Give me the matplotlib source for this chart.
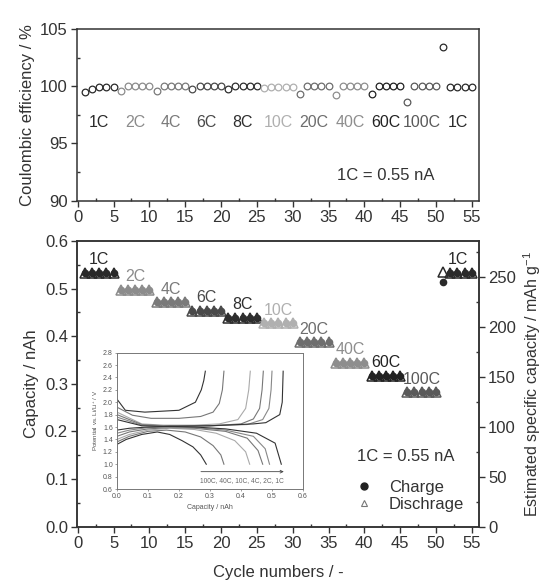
import numpy as np
import matplotlib
matplotlib.use("Agg")
import matplotlib.pyplot as plt
from matplotlib.lines import Line2D
from matplotlib.ticker import MultipleLocator, FormatStrFormatter

plt.rcParams['font.family'] = ['Liberation Sans', 'DejaVu Sans']
plt.rcParams['mathtext.fontset'] = 'custom'
plt.rcParams['mathtext.rm'] = 'Liberation Sans'

# C-rate groups (5 cycles each, last group 51-55)
rates = ['1C', '2C', '4C', '6C', '8C', '10C', '20C', '40C', '60C', '100C', '1C']
rate_colors = ['#2a2a2a', '#8c8c8c', '#7a7a7a', '#4a4a4a', '#2e2e2e', '#b0b0b0',
               '#6e6e6e', '#8e8e8e', '#222222', '#5a5a5a', '#2a2a2a']

cycles = np.arange(1, 56)

# Coulombic efficiency / %
ce = [99.5, 99.8, 99.9, 99.9, 99.95,
      99.6, 100.0, 100.0, 100.0, 100.0,
      99.6, 100.0, 100.0, 100.0, 100.0,
      99.75, 100.0, 100.0, 100.0, 100.0,
      99.8, 100.0, 100.0, 100.0, 100.0,
      99.85, 99.95, 99.95, 99.95, 99.95,
      99.3, 100.0, 100.0, 100.0, 100.0,
      99.2, 100.0, 100.0, 100.0, 100.0,
      99.3, 100.0, 100.0, 100.0, 100.0,
      98.6, 100.0, 100.0, 100.0, 100.0,
      103.4, 99.95, 99.95, 99.95, 99.95]

# Capacity / nAh
charge = [0.533] * 5 + [0.498] * 5 + [0.471] * 5 + [0.453] * 5 + [0.439] * 5 + \
         [0.427] * 5 + [0.387] * 5 + [0.344] * 5 + [0.317] * 5 + [0.282] * 5 + \
         [0.514, 0.533, 0.533, 0.533, 0.533]
discharge = [0.533] * 5 + [0.498] * 5 + [0.471] * 5 + [0.453] * 5 + [0.439] * 5 + \
            [0.427] * 5 + [0.387] * 5 + [0.344] * 5 + [0.317] * 5 + [0.282] * 5 + \
            [0.535, 0.533, 0.533, 0.533, 0.533]

# Inset: voltage profiles (capacity / nAh, potential / V)
inset_rates = ['100C', '40C', '10C', '4C', '2C', '1C']
inset_colors = ['#333333', '#777777', '#aaaaaa', '#777777', '#888888', '#333333']
charge_q = [
    [0, 0.027, 0.09, 0.2, 0.253, 0.272, 0.28, 0.285],
    [0, 0.05, 0.11, 0.2, 0.27, 0.31, 0.33, 0.34, 0.345],
    [0, 0.08, 0.15, 0.25, 0.33, 0.39, 0.415, 0.425, 0.43],
    [0, 0.08, 0.15, 0.3, 0.4, 0.44, 0.46, 0.468, 0.472],
    [0, 0.08, 0.15, 0.3, 0.42, 0.47, 0.49, 0.497, 0.5],
    [0, 0.08, 0.15, 0.3, 0.44, 0.48, 0.525, 0.533, 0.536],
]
charge_v = [
    [2.05, 1.87, 1.84, 1.87, 2.0, 2.2, 2.35, 2.5],
    [1.92, 1.79, 1.74, 1.74, 1.77, 1.84, 1.98, 2.2, 2.5],
    [1.84, 1.65, 1.63, 1.63, 1.65, 1.72, 1.9, 2.2, 2.5],
    [1.8, 1.64, 1.62, 1.62, 1.65, 1.73, 1.9, 2.2, 2.5],
    [1.76, 1.63, 1.62, 1.62, 1.64, 1.72, 1.9, 2.2, 2.5],
    [1.72, 1.62, 1.61, 1.62, 1.65, 1.67, 1.8, 2.0, 2.5],
]
dis_q = [
    [0, 0.03, 0.08, 0.13, 0.17, 0.21, 0.245, 0.27, 0.288],
    [0, 0.04, 0.1, 0.16, 0.22, 0.27, 0.31, 0.335, 0.345],
    [0, 0.04, 0.1, 0.17, 0.25, 0.32, 0.38, 0.415, 0.428],
    [0, 0.04, 0.1, 0.17, 0.25, 0.35, 0.42, 0.455, 0.47],
    [0, 0.04, 0.1, 0.17, 0.25, 0.35, 0.44, 0.478, 0.492],
    [0, 0.04, 0.1, 0.17, 0.25, 0.35, 0.45, 0.51, 0.53],
]
dis_v = [
    [1.32, 1.4, 1.48, 1.52, 1.48, 1.38, 1.28, 1.15, 1.0],
    [1.36, 1.45, 1.53, 1.55, 1.52, 1.44, 1.3, 1.15, 1.0],
    [1.4, 1.48, 1.55, 1.58, 1.56, 1.5, 1.38, 1.2, 1.0],
    [1.45, 1.52, 1.57, 1.59, 1.58, 1.53, 1.42, 1.22, 1.0],
    [1.5, 1.55, 1.59, 1.6, 1.59, 1.55, 1.45, 1.25, 1.0],
    [1.55, 1.58, 1.6, 1.61, 1.6, 1.57, 1.5, 1.34, 1.0],
]

FS = 12
TC = '#333333'

fig = plt.figure(figsize=(5.44, 5.83), dpi=100)
ax1 = fig.add_axes([0.1415, 0.6557, 0.739, 0.2946])
ax2 = fig.add_axes([0.1415, 0.0966, 0.739, 0.490])
ax_r = ax2.twinx()
ax_in = fig.add_axes([0.215, 0.1612, 0.342, 0.234])


def style(ax, right=False):
    for s in ax.spines.values():
        s.set_color(TC)
        s.set_linewidth(1.1)
    ax.tick_params(which='major', direction='out', length=4, width=1,
                   color=TC, labelcolor=TC, labelsize=FS, pad=2.5)
    ax.tick_params(which='minor', direction='in', length=2.5, width=1, color=TC)
    ax.tick_params(top=False, right=right, left=not right,
                   which='both')


# --- top: coulombic efficiency
style(ax1)
for g in range(11):
    sl = slice(5 * g, 5 * g + 5)
    ax1.plot(cycles[sl], ce[sl], 'o', ms=4.8, mfc='none',
             mec=rate_colors[g], mew=0.9)
    ax1.text(cycles[sl].mean(), 96.8, rates[g], color=rate_colors[g],
             ha='center', va='center', fontsize=FS - 0.5)
ax1.text(0.89, 0.145, '1C = 0.55 nA', transform=ax1.transAxes,
         ha='right', va='center', fontsize=FS, color=TC)
ax1.set_xlim(-0.1, 56)
ax1.set_ylim(90, 105)
ax1.xaxis.set_major_locator(MultipleLocator(5))
ax1.xaxis.set_minor_locator(MultipleLocator(2.5))
ax1.yaxis.set_major_locator(MultipleLocator(5))
ax1.yaxis.set_minor_locator(MultipleLocator(2.5))
ax1.set_ylabel('Coulombic efficiency / %', fontsize=FS, color=TC, labelpad=4)

# --- bottom: capacity
style(ax2)
for g in range(11):
    sl = slice(5 * g, 5 * g + 5)
    ax2.plot(cycles[sl], charge[sl], 'o', ms=5.5, color=rate_colors[g], mew=0)
    ax2.plot(cycles[sl], discharge[sl], '^', ms=7, mfc='none',
             mec=rate_colors[g], mew=1.1)
    ax2.text(cycles[sl].mean(), max(charge[sl]) + 0.012, rates[g],
             color=rate_colors[g], ha='center', va='bottom', fontsize=FS - 0.5)
ax2.set_xlim(-0.1, 56)
ax2.set_ylim(0, 0.6)
ax2.xaxis.set_major_locator(MultipleLocator(5))
ax2.xaxis.set_minor_locator(MultipleLocator(2.5))
ax2.yaxis.set_major_locator(MultipleLocator(0.1))
ax2.yaxis.set_minor_locator(MultipleLocator(0.05))
ax2.set_ylabel('Capacity / nAh', fontsize=FS, color=TC, labelpad=4)
ax2.set_xlabel('Cycle numbers / -', fontsize=FS, color=TC, labelpad=10)

ax_r.set_ylim(0, 285.7)
style(ax_r, right=True)
ax_r.yaxis.set_major_locator(MultipleLocator(50))
ax_r.yaxis.set_minor_locator(MultipleLocator(25))
ax_r.set_ylabel(r'Estimated specific capacity / mAh g$^{\mathregular{-1}}$',
                fontsize=11.5, color=TC, labelpad=4)

ax2.text(0.94, 0.244, '1C = 0.55 nA', transform=ax2.transAxes,
         ha='right', va='center', fontsize=FS, color=TC)
handles = [Line2D([], [], ls='none', marker='o', ms=5, color='#222222'),
           Line2D([], [], ls='none', marker='^', ms=5, mfc='none',
                  mec='#777777', mew=0.8)]
ax2.legend(handles, ['Charge', 'Dischrage'], loc='upper left',
           bbox_to_anchor=(0.66, 0.205), frameon=False, fontsize=FS,
           labelspacing=0.15, handlelength=1.2, handletextpad=0.9,
           borderpad=0.2, labelcolor=TC)

# --- inset: voltage profiles
for i in range(6):
    ax_in.plot(charge_q[i], charge_v[i], color=inset_colors[i], lw=0.8)
    ax_in.plot(dis_q[i], dis_v[i], color=inset_colors[i], lw=0.8)
ax_in.set_xlim(0, 0.6)
ax_in.set_ylim(0.6, 2.8)
ax_in.xaxis.set_major_locator(MultipleLocator(0.1))
ax_in.yaxis.set_major_locator(MultipleLocator(0.2))
ax_in.xaxis.set_major_formatter(FormatStrFormatter('%.1f'))
ax_in.yaxis.set_major_formatter(FormatStrFormatter('%.1f'))
for s in ax_in.spines.values():
    s.set_color('#777777')
    s.set_linewidth(0.7)
ax_in.tick_params(direction='out', length=1.5, width=0.5, color='#777777',
                  labelsize=5, labelcolor='#555555', pad=1.5)
ax_in.set_xlabel('Capacity / nAh', fontsize=5, color='#555555', labelpad=3)
ax_in.set_ylabel(r'Potential vs. Li/Li$^{+}$ / V', fontsize=4.5,
                 color='#555555', labelpad=2)
ax_in.annotate('', xy=(0.547, 0.88), xytext=(0.262, 0.88),
               arrowprops=dict(arrowstyle='->', color='#444444', lw=0.6,
                               mutation_scale=5))
ax_in.text(0.403, 0.74, '100C, 40C, 10C, 4C, 2C, 1C', ha='center', va='center',
           fontsize=4.8, color='#666666')

fig.savefig('out.png', dpi=100)
